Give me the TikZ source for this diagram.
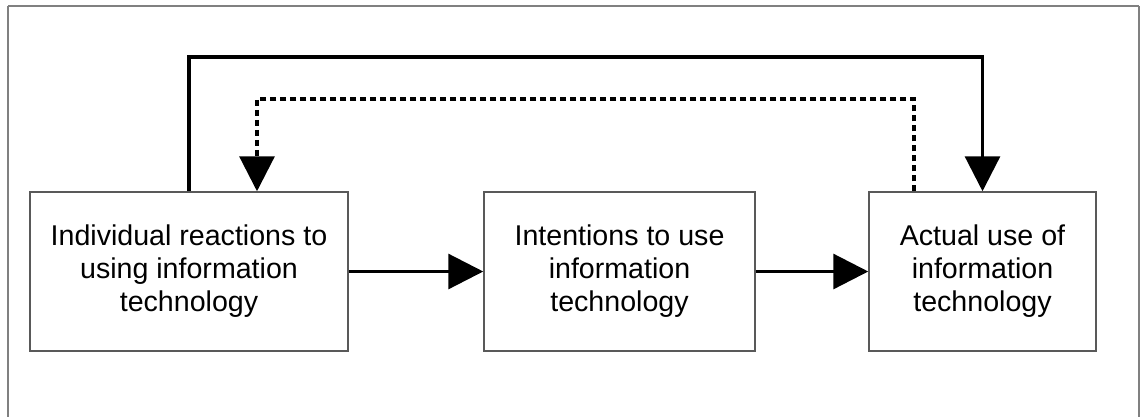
\documentclass[tikz,border=0pt]{standalone}
\usepackage{fontspec}
\setmainfont{Liberation Sans}
\usetikzlibrary{arrows.meta}
\begin{document}
\begin{tikzpicture}[x=1pt,y=-1pt,
  stage/.style={draw=black!65,line width=1.5pt,inner sep=0pt,align=center,
    font=\fontsize{28.6}{33}\selectfont},
  flow/.style={line width=3.2pt,-{Triangle[length=35pt,width=35pt]}},
  feedback/.style={flow,dash pattern=on 6pt off 4pt}]
  \useasboundingbox (0,0) rectangle (1140,416);
  % frame
  \draw[black!50,line width=1.5pt] (8,6) -- (1139,6) (8,6) -- (8,430) (1139,6) -- (1139,430);
  % stages
  \node[stage,minimum width=318pt,minimum height=159pt] (b1) at (189,271.5)
    {Individual reactions to\\using information\\technology};
  \node[stage,minimum width=271pt,minimum height=159pt] (b2) at (619.5,271.5)
    {Intentions to use\\information\\technology};
  \node[stage,minimum width=227pt,minimum height=159pt] (b3) at (982.5,271.5)
    {Actual use of\\information\\technology};
  % forward flow
  \draw[flow] (b1) -- (b2);
  \draw[flow] (b2) -- (b3);
  \draw[flow] (b1.north) -- (b1.north |- 0,57) -| (b3.north);
  % feedback
  \draw[feedback] ([xshift=-68.5pt]b3.north) -- ([xshift=-68.5pt]b3.north |- 0,99)
    -| ([xshift=68pt]b1.north);
\end{tikzpicture}
\end{document}
